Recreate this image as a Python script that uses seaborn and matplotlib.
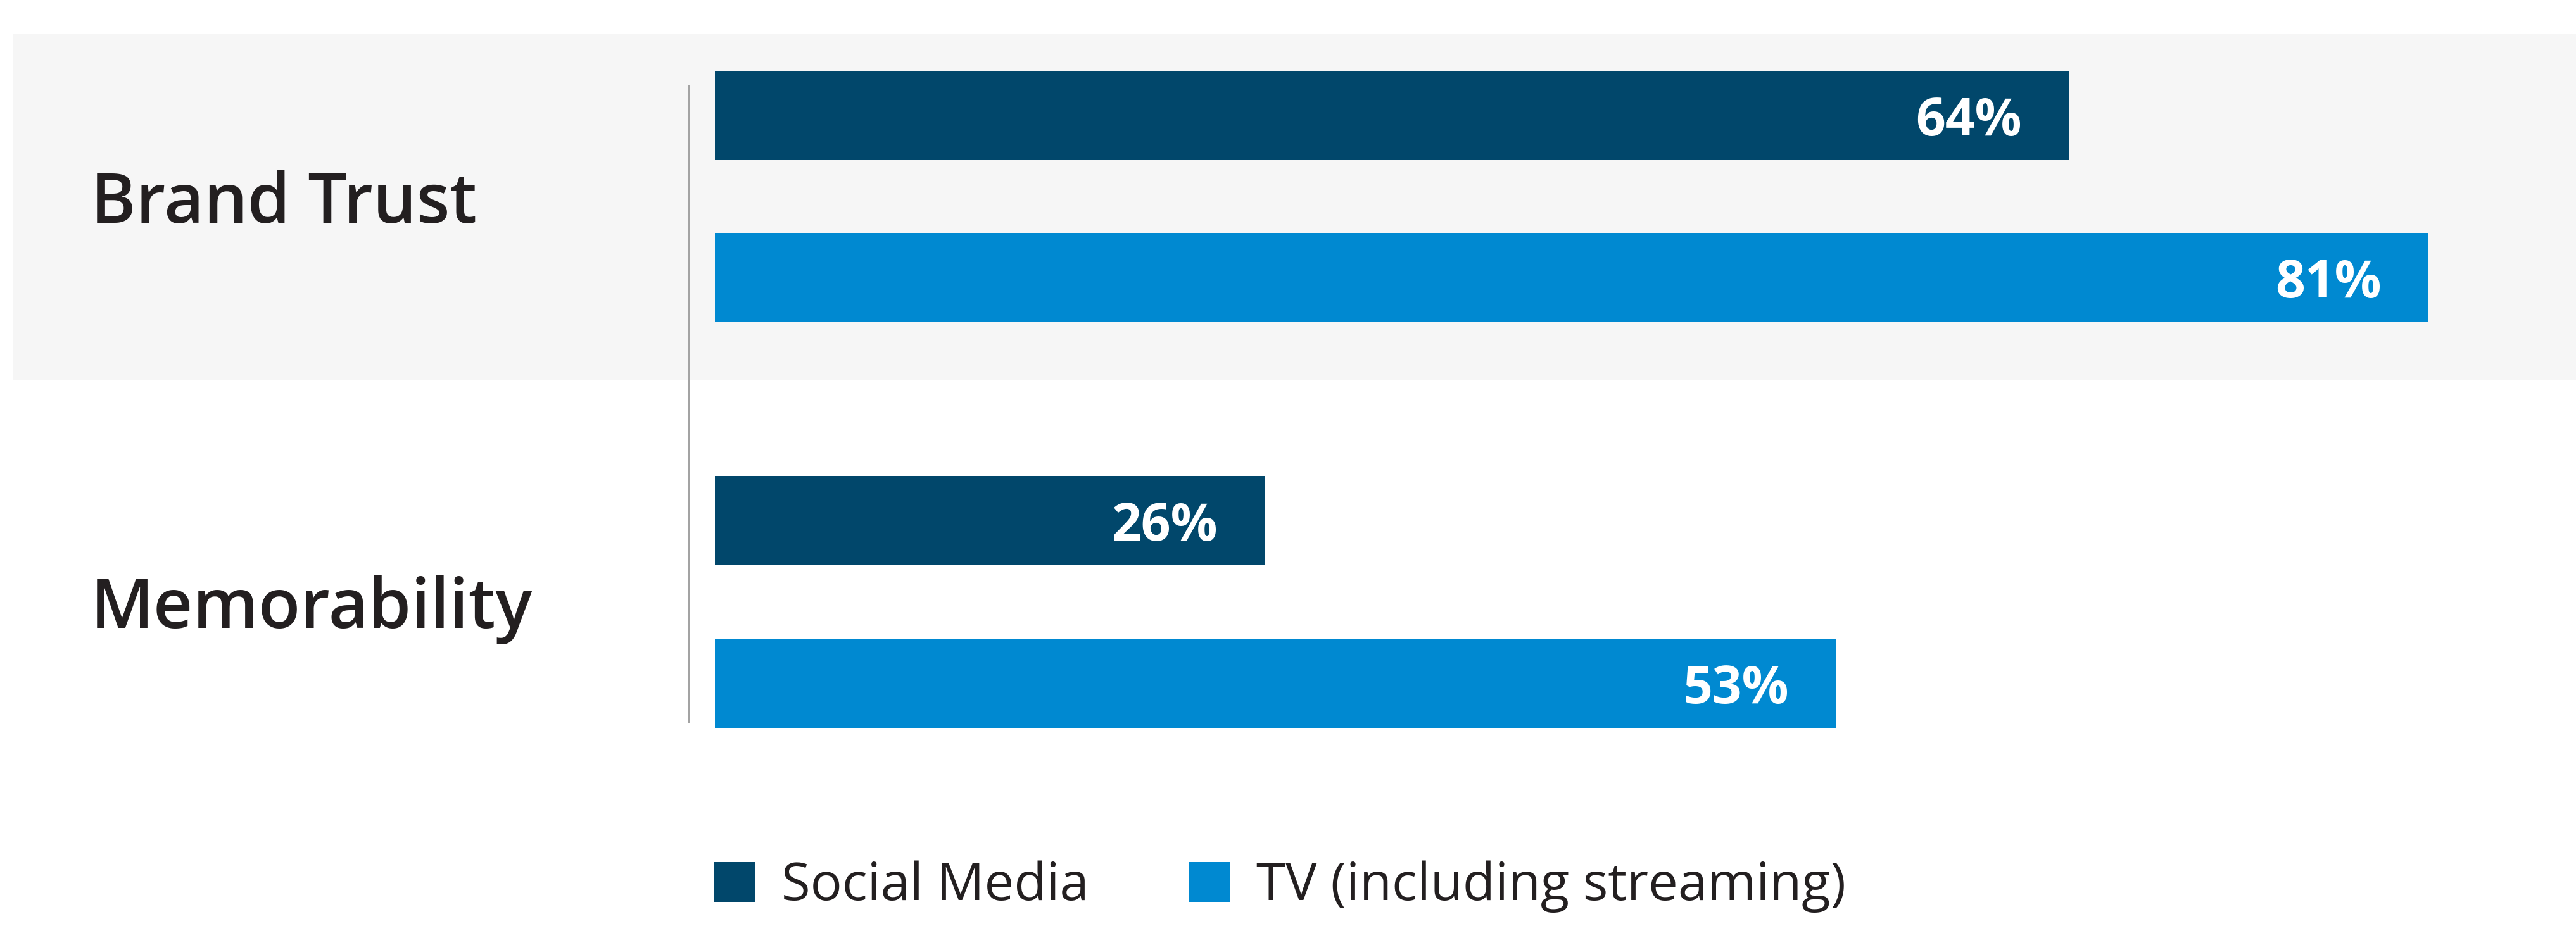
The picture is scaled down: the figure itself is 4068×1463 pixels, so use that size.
import matplotlib
matplotlib.use("Agg")
import matplotlib.pyplot as plt
from matplotlib.patches import Rectangle
import seaborn as sns
import pandas as pd

# ---- data ----
categories = ["Brand Trust", "Memorability"]
series = ["Social Media", "TV (including streaming)"]
social_media = [64, 26]
tv_streaming = [81, 53]

# ---- style ----
W, H, DPI = 4068, 1463, 200
DARK = "#01476B"
LIGHT = "#0089D1"
BAND = "#F6F6F6"
TEXT = "#231F20"

sns.set_theme(style="white")
plt.rcParams["font.family"] = ["Open Sans", "DejaVu Sans"]

df = pd.DataFrame({
    "category": categories * 2,
    "series": [series[0]] * len(categories) + [series[1]] * len(categories),
    "value": social_media + tv_streaming,
})

fig = plt.figure(figsize=(W / DPI, H / DPI), dpi=DPI)
fig.patch.set_facecolor("white")

# grey band behind the first category
fig.add_artist(Rectangle((21 / W, 1 - 600 / H), (W - 21) / W, (600 - 53) / H,
                         transform=fig.transFigure, facecolor=BAND,
                         edgecolor="none", zorder=-5))

ax_left = 1088
ax = fig.add_axes([ax_left / W, 0, (W - ax_left) / W, 1])
ax.set_facecolor("none")

sns.barplot(data=df, x="value", y="category", hue="series",
            order=categories, hue_order=series,
            palette=[DARK, LIGHT], saturation=1, orient="h",
            width=0.8, gap=0.45, linewidth=0, ax=ax, legend=True)

# scales (pixel layout -> data)
k = 33.4                      # px per percentage point
zero_px = 1129
ax.set_xlim(-(zero_px - ax_left) / k, (W - zero_px) / k)
unit = 640.5                  # px per category
c0 = 310.5
ax.set_ylim(1 + (H - c0 - unit) / unit, -c0 / unit)

# axes cosmetics
for s in ["top", "right", "bottom"]:
    ax.spines[s].set_visible(False)
ax.spines["left"].set_color("#A3A3A3")
ax.spines["left"].set_linewidth(3 / DPI * 72)
ax.spines["left"].set_bounds((135 - c0) / unit, (1141 - c0) / unit)
ax.set_xticks([])
ax.set_xlabel("")
ax.set_ylabel("")

pad_pt = (ax_left - 143) / DPI * 72
ax.tick_params(axis="y", length=0, pad=pad_pt)
for lab in ax.get_yticklabels():
    lab.set_ha("left")
    lab.set_fontsize(39)
    lab.set_fontweight("semibold")
    lab.set_color(TEXT)
    lab.set_va("center_baseline")

# value labels
for cont in ax.containers:
    anns = ax.bar_label(cont, fmt="%.0f%%", padding=-74 / DPI * 72)
    for a in anns:
        a.set_ha("right")
        a.set_va("center_baseline")
        a.set_color("white")
        a.set_fontsize(29.5)
        a.set_fontweight("bold")

# legend
sns.move_legend(ax, loc="center left",
                bbox_to_anchor=(1128 / W, 1 - 1401 / H),
                bbox_transform=fig.transFigure, ncol=2, frameon=False,
                title=None, handlelength=0.77, handleheight=0.78,
                handletextpad=0.5, columnspacing=1.9, borderpad=0,
                borderaxespad=0, fontsize=30, labelcolor=TEXT)

fig.savefig("out.png", dpi=DPI, facecolor="white")
